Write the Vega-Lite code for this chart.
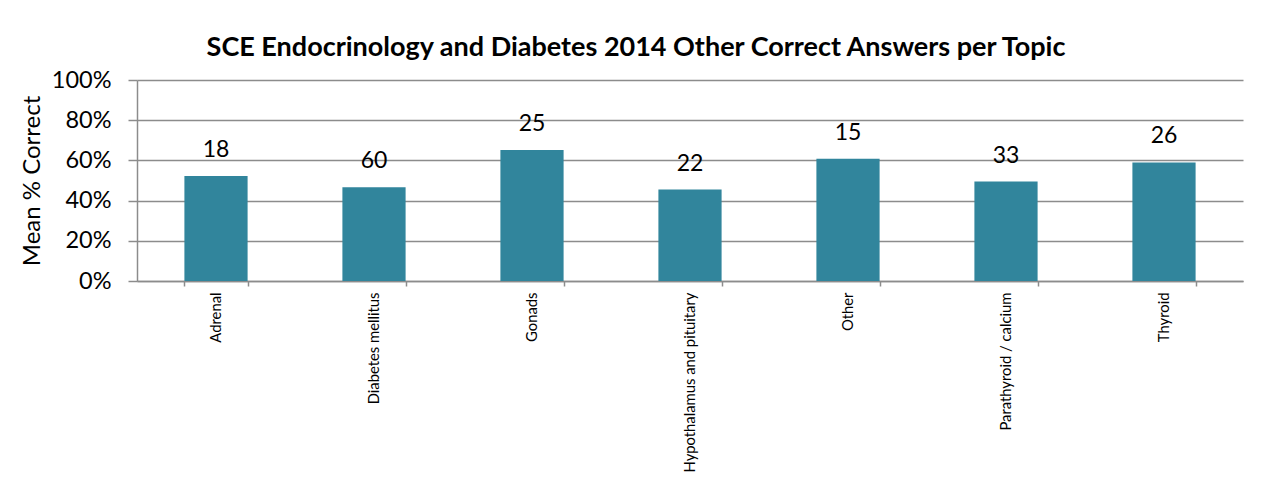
{
  "$schema": "https://vega.github.io/schema/vega-lite/v6.json",
  "autosize": {"type": "none"},
  "padding": {"left": 137, "top": 80, "right": 20, "bottom": 196},
  "width": 1106,
  "height": 201,
  "background": "white",
  "title": {
    "text": "SCE Endocrinology and Diabetes 2014 Other Correct Answers per Topic",
    "font": "Lato",
    "fontSize": 27,
    "fontWeight": "bold",
    "color": "#000000",
    "anchor": "middle",
    "frame": "group",
    "dx": -54,
    "offset": 6
  },
  "data": {
    "values": [
      {"topic": "Adrenal", "pct": 0.522, "count": 18},
      {"topic": "Diabetes mellitus", "pct": 0.466, "count": 60},
      {"topic": "Gonads", "pct": 0.652, "count": 25},
      {"topic": "Hypothalamus and pituitary", "pct": 0.455, "count": 22},
      {"topic": "Other", "pct": 0.608, "count": 15},
      {"topic": "Parathyroid / calcium", "pct": 0.495, "count": 33},
      {"topic": "Thyroid", "pct": 0.59, "count": 26}
    ]
  },
  "encoding": {
    "x": {
      "field": "topic",
      "type": "nominal",
      "sort": null,
      "scale": {"paddingInner": 0.6, "paddingOuter": 0.3},
      "axis": {
        "title": null,
        "labelAngle": -90,
        "labelFont": "Lato",
        "labelFontSize": 14.8,
        "labelColor": "#000000",
        "labelPadding": 6,
        "labelLimit": 300,
        "tickBand": "extent",
        "tickSize": 5,
        "tickColor": "#8c8c8c",
        "tickWidth": 1.5,
        "domainColor": "#8c8c8c",
        "domainWidth": 1.5,
        "grid": false
      }
    },
    "y": {
      "field": "pct",
      "type": "quantitative",
      "scale": {"domain": [0, 1], "nice": false},
      "axis": {
        "title": "Mean % Correct",
        "titleFont": "Lato",
        "titleFontSize": 24,
        "titleFontWeight": "normal",
        "titleColor": "#000000",
        "titlePadding": 7,
        "values": [0, 0.2, 0.4, 0.6, 0.8, 1],
        "format": ".0%",
        "labelFont": "Lato",
        "labelFontSize": 23.5,
        "labelColor": "#000000",
        "labelPadding": 17,
        "tickSize": 9,
        "tickColor": "#8c8c8c",
        "tickWidth": 1.5,
        "domainColor": "#8c8c8c",
        "domainWidth": 1.5,
        "grid": true,
        "gridColor": "#8c8c8c",
        "gridWidth": 1.5
      }
    }
  },
  "layer": [
    {
      "mark": {"type": "bar", "color": "#31859C"}
    },
    {
      "mark": {"type": "text", "font": "Lato", "fontSize": 23, "color": "#000000", "dy": -26, "baseline": "middle"},
      "encoding": {"text": {"field": "count", "type": "quantitative"}}
    }
  ],
  "config": {
    "view": {"stroke": null}
  }
}
